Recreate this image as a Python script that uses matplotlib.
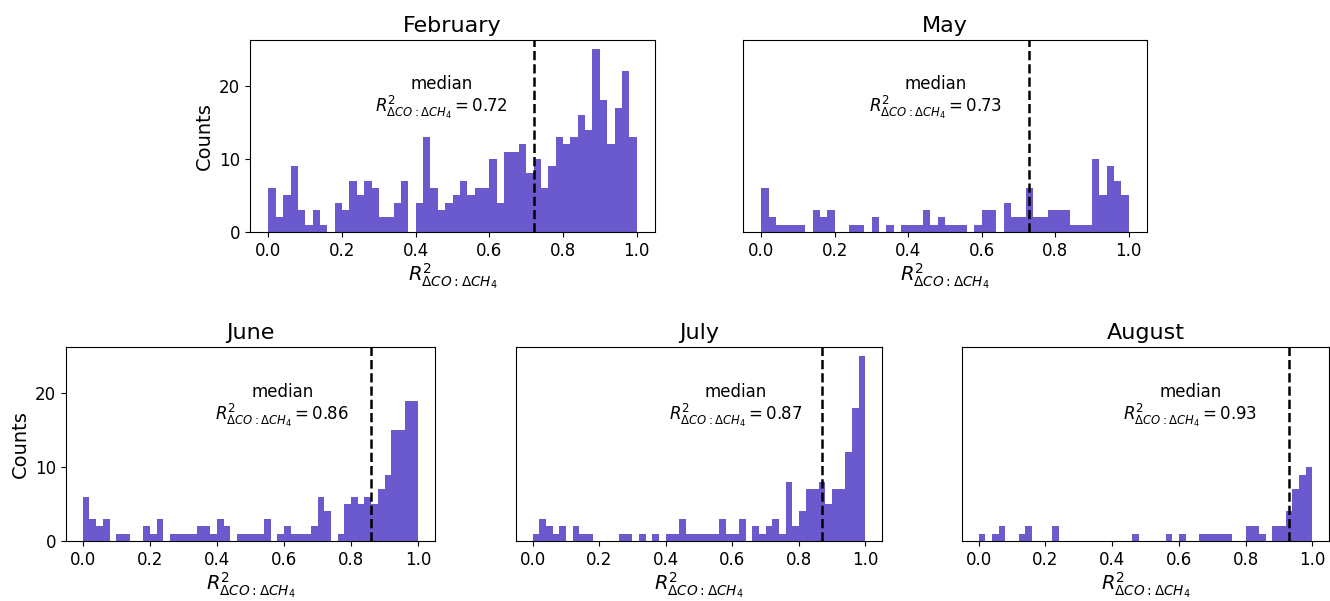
import numpy as np
import matplotlib.pyplot as plt

months = ["February", "May", "June", "July", "August"]
medians = [0.72, 0.73, 0.86, 0.87, 0.93]

# counts per bin, 50 bins between 0 and 1
feb = [6, 2, 5, 9, 3, 1, 3, 1, 0, 4,
       3, 7, 5, 7, 6, 2, 2, 4, 7, 0,
       4, 13, 6, 3, 4, 5, 7, 5, 6, 6,
       10, 4, 11, 11, 12, 8, 10, 6, 9, 13,
       12, 13, 16, 14, 25, 18, 12, 17, 22, 13]
may = [6, 2, 1, 1, 1, 1, 0, 3, 2, 3,
       0, 0, 1, 1, 0, 2, 0, 1, 0, 1,
       1, 1, 3, 1, 2, 1, 1, 1, 0, 1,
       3, 3, 0, 4, 2, 2, 6, 2, 2, 3,
       3, 3, 1, 1, 1, 10, 5, 9, 7, 5]
jun = [6, 3, 2, 3, 0, 1, 1, 0, 0, 2,
       1, 3, 0, 1, 1, 1, 1, 2, 2, 1,
       3, 2, 0, 1, 1, 1, 1, 3, 0, 1,
       2, 1, 1, 1, 2, 6, 4, 0, 1, 5,
       6, 5, 6, 5, 7, 9, 15, 15, 19, 19]
jul = [1, 3, 2, 1, 2, 0, 2, 1, 1, 0,
       0, 0, 0, 1, 1, 0, 1, 0, 1, 0,
       1, 1, 3, 1, 1, 1, 1, 1, 3, 1,
       1, 3, 0, 2, 1, 2, 3, 1, 8, 2,
       4, 7, 7, 8, 5, 7, 7, 12, 18, 25]
aug = [1, 0, 1, 2, 0, 0, 1, 2, 0, 0,
       0, 2, 0, 0, 0, 0, 0, 0, 0, 0,
       0, 0, 0, 1, 0, 0, 0, 0, 1, 0,
       1, 0, 0, 1, 1, 1, 1, 1, 0, 0,
       2, 2, 1, 0, 2, 2, 4, 7, 9, 10]
counts = [feb, may, jun, jul, aug]
text_x = [0.47, 0.475, 0.595, 0.61, 0.634]

edges = np.linspace(0, 1, 51)
centers = (edges[:-1] + edges[1:]) / 2
xlab = r"$R^2_{\Delta CO:\Delta CH_4}$"

fig = plt.figure(figsize=(13.3, 6.01), dpi=100)
boxes = [[0.188, 0.614, 0.3045, 0.3195],
         [0.5586, 0.614, 0.3038, 0.3195],
         [0.0496, 0.0998, 0.2774, 0.3228],
         [0.388, 0.0998, 0.2752, 0.3228],
         [0.7233, 0.0998, 0.2760, 0.3228]]

for i in range(5):
    ax = fig.add_axes(boxes[i])
    ax.hist(centers, bins=edges, weights=counts[i], color="slateblue")
    ax.axvline(medians[i], color="k", ls="--", lw=1.8)
    ax.set_ylim(0, 26.25)
    ax.set_title(months[i], fontsize=16)
    ax.set_xlabel(xlab, fontsize=14, labelpad=1)
    ax.set_xticks([0, 0.2, 0.4, 0.6, 0.8, 1.0])
    ax.tick_params(labelsize=12)
    ax.text(text_x[i], 18.3, "median\n" + xlab[:-1] + " = %.2f$" % medians[i],
            ha="center", va="center", multialignment="center", fontsize=12,
            linespacing=1.05)
    if i in (0, 2):
        ax.set_yticks([0, 10, 20])
        ax.set_ylabel("Counts", fontsize=14)
    else:
        ax.set_yticks([])

plt.savefig("out.png", dpi=100)
